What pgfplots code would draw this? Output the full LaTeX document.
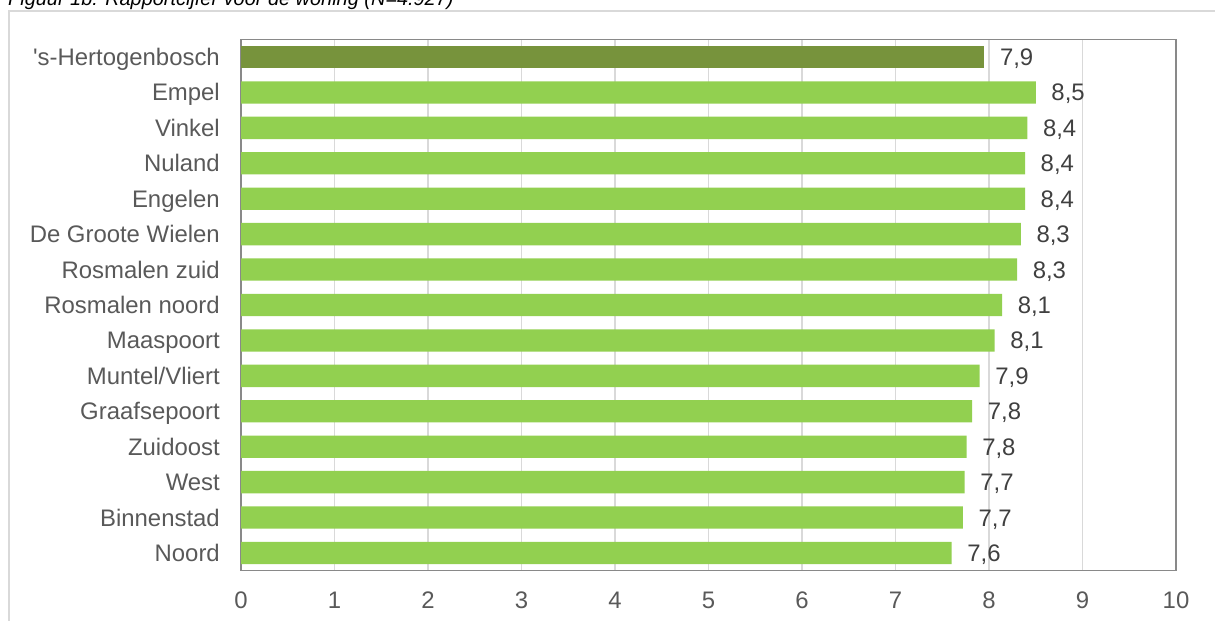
\documentclass[border=0pt]{standalone}
\usepackage{pgfplots}
\pgfplotsset{compat=1.18}
\usepackage{pgfplotstable}
\usepackage{fontspec}
\setmainfont{Liberation Sans}

\definecolor{txt}{HTML}{595959}
\definecolor{val}{HTML}{404040}
\definecolor{gridc}{HTML}{D9D9D9}
\definecolor{axc}{HTML}{898989}
\definecolor{olive}{HTML}{77933C}
\definecolor{lgreen}{HTML}{92D050}

% rapportcijfer per wijk, y = rij (0 = boven)
\pgfplotstableread[row sep=\\]{
v i lab\\
7.95 0 7,9\\
}\stad
\pgfplotstableread[row sep=\\]{
v i lab\\
8.50 1 8,5\\
8.41 2 8,4\\
8.385 3 8,4\\
8.385 4 8,4\\
8.34 5 8,3\\
8.30 6 8,3\\
8.14 7 8,1\\
8.06 8 8,1\\
7.90 9 7,9\\
7.82 10 7,8\\
7.76 11 7,8\\
7.74 12 7,7\\
7.72 13 7,7\\
7.60 14 7,6\\
}\wijken

\begin{document}
\begin{tikzpicture}
\draw[gridc, line width=1.2bp] (9bp,0bp) -- (9bp,610bp) -- (1215bp,610bp);
\node[anchor=base west, inner sep=0pt, font=\fontsize{20}{24}\selectfont\itshape]
  at (8bp,615bp) {Figuur 1b: Rapportcijfer voor de woning (N=4.927)};

\begin{axis}[
  at={(241bp,50.3bp)}, anchor=south west,
  scale only axis, width=935bp, height=531.4bp,
  xmin=0, xmax=10, ymin=-0.5, ymax=14.5, y dir=reverse,
  xtick={0,...,10}, ytick={0,...,14},
  yticklabels={{\textquotesingle s-Hertogenbosch},Empel,Vinkel,Nuland,Engelen,
    De Groote Wielen,Rosmalen zuid,Rosmalen noord,Maaspoort,Muntel/Vliert,
    Graafsepoort,Zuidoost,West,Binnenstad,Noord},
  major tick length=0pt,
  xmajorgrids, grid style={gridc, line width=1.3bp},
  axis line style={axc, line width=1.2bp},
  tick label style={font=\fontsize{24}{28}\selectfont, text=txt},
  xticklabel style={inner sep=0pt, anchor=base, yshift=-37.6bp},
  yticklabel style={inner sep=0pt, anchor=base east, xshift=-21bp, yshift=-8.5bp},
  /pgf/number format/assume math mode=true,
  xbar, bar width=22.3bp,
  nodes near coords, point meta=explicit symbolic,
  every node near coord/.append style={anchor=base west, inner sep=0pt,
    xshift=15.5bp, yshift=-8.5bp, font=\fontsize{24}{28}\selectfont, text=val},
]
\addplot[xbar, bar shift=0pt, draw=none, fill=olive] table[x=v, y=i, meta=lab] {\stad};
\addplot[xbar, bar shift=0pt, draw=none, fill=lgreen] table[x=v, y=i, meta=lab] {\wijken};
\end{axis}
\pgfresetboundingbox
\useasboundingbox (0bp,0bp) rectangle (1215bp,621bp);
\end{tikzpicture}
\end{document}
